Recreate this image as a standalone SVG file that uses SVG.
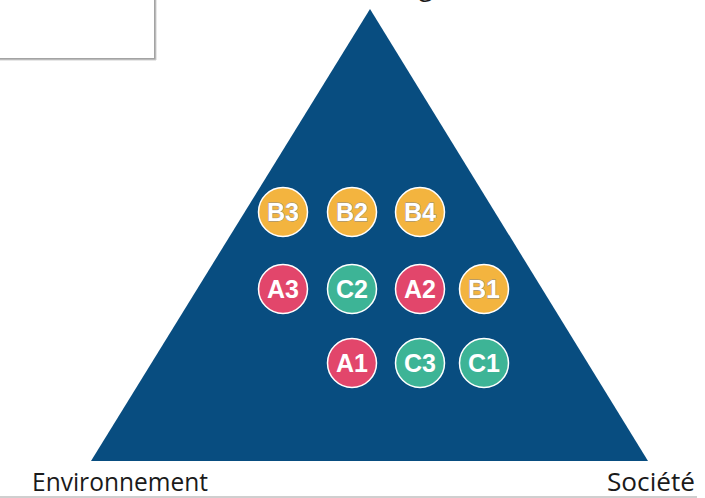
<svg xmlns="http://www.w3.org/2000/svg" width="705" height="498" viewBox="0 0 705 498">
<style>
.lbl{font-family:"Open Sans","Noto Sans","Liberation Sans",sans-serif;font-size:25px;fill:#1a1a1a}
.c{stroke:#ffffff;stroke-width:1.5}
.o{fill:#F3B43F}
.r{fill:#E2466B}
.t{fill:#3DB496}
.ct{font-family:"Liberation Sans",Arial,sans-serif;font-weight:bold;font-size:25px;text-anchor:middle;fill:#ffffff}
.ot{stroke:#8a8a8a;stroke-width:0.8;paint-order:stroke}
</style>
<rect x="0" y="0" width="705" height="498" fill="#ffffff"/>
<g id="box">
<rect x="-3" y="-3" width="158" height="62" fill="#ffffff" stroke="#a3a3a3" stroke-width="2"/>
<line x1="156" y1="0" x2="156" y2="60" stroke="#d0d0d0" stroke-width="1"/>
<line x1="0" y1="60" x2="156" y2="60" stroke="#d0d0d0" stroke-width="1"/>
</g>
<text class="lbl" x="419" y="-4">g</text>
<g id="triangle">
<polygon points="370,9 91,461 648,461" fill="#084D80"/>
</g>
<g id="B3"><circle class="c o" cx="283" cy="212" r="24.5"/><text class="ct ot" x="283" y="221">B3</text></g>
<g id="B2"><circle class="c o" cx="352" cy="212" r="24.5"/><text class="ct ot" x="352" y="221">B2</text></g>
<g id="B4"><circle class="c o" cx="420" cy="212" r="24.5"/><text class="ct ot" x="420" y="221">B4</text></g>
<g id="A3"><circle class="c r" cx="283" cy="289" r="24.5"/><text class="ct" x="283" y="298">A3</text></g>
<g id="C2"><circle class="c t" cx="352" cy="289" r="24.5"/><text class="ct" x="352" y="298">C2</text></g>
<g id="A2"><circle class="c r" cx="420" cy="289" r="24.5"/><text class="ct" x="420" y="298">A2</text></g>
<g id="B1"><circle class="c o" cx="484" cy="289" r="24.5"/><text class="ct ot" x="484" y="298">B1</text></g>
<g id="A1"><circle class="c r" cx="352" cy="363" r="24.5"/><text class="ct" x="352" y="372">A1</text></g>
<g id="C3"><circle class="c t" cx="420" cy="363" r="24.5"/><text class="ct" x="420" y="372">C3</text></g>
<g id="C1"><circle class="c t" cx="484" cy="363" r="24.5"/><text class="ct" x="484" y="372">C1</text></g>
<g id="connectors"></g>
<text class="lbl" x="32" y="491" textLength="176" lengthAdjust="spacingAndGlyphs">Environnement</text>
<text class="lbl" x="607" y="491" textLength="88" lengthAdjust="spacingAndGlyphs">Société</text>
<line x1="0" y1="497" x2="697" y2="497" stroke="#cfcfcf" stroke-width="2"/>
</svg>
